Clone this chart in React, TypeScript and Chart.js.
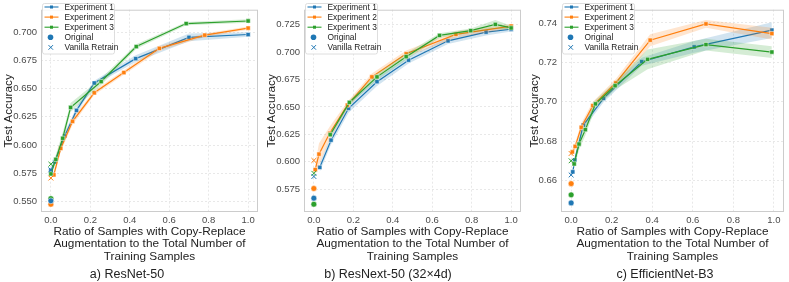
import React, { useEffect, useRef } from "react";
import { Chart, registerables } from "chart.js";
Chart.register(...registerables);

// ---------- shared labels ----------
const LEGEND_LABELS = ["Experiment 1", "Experiment 2", "Experiment 3", "Original", "Vanilla Retrain"];
const X_TICKS = [0, 0.2, 0.4, 0.6, 0.8, 1.0];
const X_TITLE = ["Ratio of Samples with Copy-Replace", "Augmentation to the Total Number of", "Training Samples"];
const Y_TITLE = "Test Accuracy";
const CAPTIONS = ["a) ResNet-50", "b) ResNext-50 (32×4d)", "c) EfficientNet-B3"];

// ---------- panel a: ResNet-50 ----------
const aX1 = [0, 0.02, 0.07, 0.13, 0.22, 0.43, 0.70, 1.0];
const aY1 = [0.5776, 0.585, 0.608, 0.6307, 0.655, 0.6766, 0.6955, 0.698];
const aE1 = [0.003, 0.003, 0.003, 0.003, 0.002, 0.003, 0.0035, 0.002];
const aX2 = [0.015, 0.05, 0.11, 0.22, 0.37, 0.55, 0.78, 1.0];
const aY2 = [0.5736, 0.597, 0.621, 0.6463, 0.6643, 0.6857, 0.6974, 0.7037];
const aE2 = [0.003, 0.003, 0.003, 0.002, 0.002, 0.002, 0.0015, 0.0015];
const aX3 = [0, 0.025, 0.06, 0.1, 0.255, 0.433, 0.686, 1.0];
const aY3 = [0.5744, 0.5873, 0.606, 0.6333, 0.6563, 0.6873, 0.7077, 0.710];
const aE3 = [0.003, 0.004, 0.005, 0.004, 0.003, 0.002, 0.0015, 0.0015];
const aOriginal = [0.5505, 0.5475, 0.5525];
const aVanilla = [0.578, 0.5707, 0.583];
const aYTicks = [0.55, 0.575, 0.6, 0.625, 0.65, 0.675, 0.7];

// ---------- panel b: ResNext-50 ----------
const bX1 = [0.03, 0.087, 0.176, 0.32, 0.48, 0.68, 0.873, 1.0];
const bY1 = [0.595, 0.6197, 0.6487, 0.6729, 0.6925, 0.7101, 0.718, 0.7206];
const bE1 = [0.004, 0.004, 0.004, 0.004, 0.003, 0.003, 0.003, 0.002];
const bX2 = [0.007, 0.026, 0.08, 0.17, 0.294, 0.468, 0.72, 1.0];
const bY2 = [0.593, 0.607, 0.626, 0.6516, 0.6773, 0.6983, 0.7159, 0.7235];
const bE2 = [0.005, 0.01, 0.006, 0.003, 0.003, 0.003, 0.003, 0.002];
const bX3 = [0.083, 0.18, 0.32, 0.468, 0.637, 0.795, 0.92, 1.0];
const bY3 = [0.6247, 0.654, 0.6773, 0.6957, 0.715, 0.7194, 0.725, 0.7218];
const bE3 = [0.002, 0.002, 0.003, 0.003, 0.002, 0.002, 0.004, 0.002];
const bOriginal = [0.567, 0.5758, 0.5615];
const bVanilla = [0.5867, 0.6013, 0.5896];
const bYTicks = [0.575, 0.6, 0.625, 0.65, 0.675, 0.7, 0.725];

// ---------- panel c: EfficientNet-B3 ----------
const cX1 = [0.008, 0.018, 0.06, 0.16, 0.348, 0.607, 0.99];
const cY1 = [0.6644, 0.6704, 0.6881, 0.7017, 0.7203, 0.7278, 0.7363];
const cE1 = [0.002, 0.002, 0.002, 0.002, 0.002, 0.003, 0.004];
const cX2 = [0.006, 0.02, 0.05, 0.107, 0.22, 0.39, 0.665, 0.99];
const cY2 = [0.6745, 0.6773, 0.687, 0.698, 0.7095, 0.7312, 0.7395, 0.7346];
const cE2 = [0.002, 0.002, 0.002, 0.002, 0.002, 0.003, 0.002, 0.003];
const cX3 = [0.015, 0.039, 0.07, 0.12, 0.217, 0.377, 0.665, 0.99];
const cY3 = [0.6684, 0.6785, 0.6858, 0.6989, 0.7081, 0.7215, 0.729, 0.7252];
const cE3 = [0.002, 0.003, 0.003, 0.002, 0.002, 0.005, 0.003, 0.003];
const cOriginal = [0.6486, 0.6584, 0.6527];
const cVanilla = [0.6628, 0.6737, 0.670];
const cYTicks = [0.66, 0.68, 0.7, 0.72, 0.74];

// ---------- style ----------
const COLORS = ["#1f77b4", "#ff7f0e", "#2ca02c"];
const FILLS = ["rgba(31,119,180,0.2)", "rgba(255,127,14,0.2)", "rgba(44,160,44,0.2)"];
const FONT = '"Liberation Sans", Arial, sans-serif';

type Panel = {
  xs: number[][]; ys: number[][]; es: number[][];
  orig: number[]; van: number[];
  yTicks: number[]; yMin: number; yMax: number; dec: number;
  caption: string; captionX: number; axisWidth: number;
};

const PANELS: Panel[] = [
  { xs: [aX1, aX2, aX3], ys: [aY1, aY2, aY3], es: [aE1, aE2, aE3], orig: aOriginal, van: aVanilla,
    yTicks: aYTicks, yMin: 0.5406, yMax: 0.720, dec: 3, caption: CAPTIONS[0], captionX: 127, axisWidth: 41 },
  { xs: [bX1, bX2, bX3], ys: [bY1, bY2, bY3], es: [bE1, bE2, bE3], orig: bOriginal, van: bVanilla,
    yTicks: bYTicks, yMin: 0.5544, yMax: 0.7384, dec: 3, caption: CAPTIONS[1], captionX: 125, axisWidth: 41 },
  { xs: [cX1, cX2, cX3], ys: [cY1, cY2, cY3], es: [cE1, cE2, cE3], orig: cOriginal, van: cVanilla,
    yTicks: cYTicks, yMin: 0.644, yMax: 0.7467, dec: 2, caption: CAPTIONS[2], captionX: 139, axisWidth: 35 },
];

function buildDatasets(p: Panel) {
  const ds: any[] = [];
  for (let s = 0; s < 3; s++) {
    const xs = p.xs[s], ys = p.ys[s], es = p.es[s];
    const base = 6 - s * 2; // blue lowest, green highest
    ds.push({
      type: "line", data: xs.map((x, i) => ({ x, y: ys[i] + es[i] })),
      borderColor: "rgba(0,0,0,0)", borderWidth: 0, pointRadius: 0, fill: false, order: base + 1,
    });
    ds.push({
      type: "line", data: xs.map((x, i) => ({ x, y: ys[i] - es[i] })),
      borderColor: "rgba(0,0,0,0)", borderWidth: 0, pointRadius: 0, fill: "-1",
      backgroundColor: FILLS[s], order: base + 1,
    });
    ds.push({
      type: "line", label: LEGEND_LABELS[s], data: xs.map((x, i) => ({ x, y: ys[i] })),
      borderColor: COLORS[s], borderWidth: 1.2, fill: false,
      pointStyle: "rect", pointRadius: 3, pointBackgroundColor: COLORS[s],
      pointBorderColor: "#ffffff", pointBorderWidth: 0.5, order: base,
    });
  }
  for (let s = 0; s < 3; s++) {
    ds.push({
      type: "line", showLine: false, data: [{ x: 0, y: p.orig[s] }],
      pointStyle: "circle", pointRadius: 2.9, pointBackgroundColor: COLORS[s],
      pointBorderColor: "#ffffff", pointBorderWidth: 0.5, order: 0,
    });
    ds.push({
      type: "line", showLine: false, data: [{ x: 0, y: p.van[s] }],
      pointStyle: "crossRot", pointRadius: 3.4, pointBorderColor: COLORS[s],
      pointBackgroundColor: COLORS[s], pointBorderWidth: 1, order: 0,
    });
  }
  return ds;
}

function decorPlugin(p: Panel) {
  return {
    id: "decor",
    afterDraw(chart: any) {
      const { ctx, chartArea: a } = chart;
      ctx.save();
      // axes frame
      ctx.strokeStyle = "#cccccc";
      ctx.lineWidth = 1;
      ctx.strokeRect(a.left + 0.5, a.top + 0.5, a.right - a.left - 1, a.bottom - a.top - 1);
      // legend
      const L = a.left;
      const bx = L + 1.5, by = 3.5, bw = 72, bh = 50.5;
      ctx.fillStyle = "rgba(255,255,255,0.85)";
      ctx.strokeStyle = "#d6d6d6";
      ctx.lineWidth = 0.8;
      ctx.beginPath();
      (ctx as any).roundRect ? ctx.roundRect(bx, by, bw, bh, 2) : ctx.rect(bx, by, bw, bh);
      ctx.fill();
      ctx.stroke();
      ctx.font = `8.4px ${FONT}`;
      ctx.textAlign = "left";
      ctx.textBaseline = "middle";
      for (let i = 0; i < 5; i++) {
        const y = 7.0 + i * 10.1;
        if (i < 3) {
          ctx.strokeStyle = COLORS[i];
          ctx.lineWidth = 1.1;
          ctx.beginPath();
          ctx.moveTo(L + 3.5, y);
          ctx.lineTo(L + 17.5, y);
          ctx.stroke();
          ctx.fillStyle = COLORS[i];
          ctx.fillRect(L + 9, y - 1.5, 3, 3);
        } else if (i === 3) {
          ctx.fillStyle = COLORS[0];
          ctx.beginPath();
          ctx.arc(L + 9.5, y, 2.8, 0, Math.PI * 2);
          ctx.fill();
        } else {
          ctx.strokeStyle = COLORS[0];
          ctx.lineWidth = 1;
          ctx.beginPath();
          ctx.moveTo(L + 7.5, y - 2.3); ctx.lineTo(L + 12, y + 2.3);
          ctx.moveTo(L + 12, y - 2.3); ctx.lineTo(L + 7.5, y + 2.3);
          ctx.stroke();
        }
        ctx.fillStyle = "#222222";
        ctx.fillText(LEGEND_LABELS[i], L + 23.5, y + 0.3);
      }
      // caption
      ctx.font = `12.5px ${FONT}`;
      ctx.fillStyle = "#222222";
      ctx.textAlign = "center";
      ctx.textBaseline = "middle";
      ctx.fillText(p.caption, p.captionX, 275);
      ctx.restore();
    },
  };
}

function PanelChart({ p }: { p: Panel }) {
  const ref = useRef<HTMLCanvasElement | null>(null);
  useEffect(() => {
    if (!ref.current) return;
    const chart = new Chart(ref.current, {
      type: "line",
      data: { datasets: buildDatasets(p) },
      plugins: [decorPlugin(p)],
      options: {
        animation: false,
        responsive: false,
        devicePixelRatio: 1,
        layout: { padding: { top: 2, right: 1, left: 0, bottom: 0 } },
        plugins: { legend: { display: false }, tooltip: { enabled: false }, title: { display: false } },
        scales: {
          x: {
            type: "linear", min: -0.05, max: 1.05,
            afterBuildTicks: (s: any) => { s.ticks = X_TICKS.map((v) => ({ value: v })); },
            afterFit: (s: any) => { s.height = 70; },
            ticks: { padding: 3, color: "#4a4a4a", font: { family: FONT, size: 9.5 }, callback: (v: any) => Number(v).toFixed(1) },
            grid: { color: "#e2e2e2", lineWidth: 0.8, drawTicks: false },
            border: { display: false, dash: [2, 2] },
            title: {
              display: true, text: X_TITLE, color: "#222222",
              font: { family: FONT, size: 11.8, lineHeight: "12.2px" },
              padding: { top: 0, bottom: 19.6 },
            },
          },
          y: {
            type: "linear", min: p.yMin, max: p.yMax,
            afterBuildTicks: (s: any) => { s.ticks = p.yTicks.map((v) => ({ value: v })); },
            afterFit: (s: any) => { s.width = p.axisWidth; },
            ticks: { padding: 4, color: "#4a4a4a", font: { family: FONT, size: 9.5 }, callback: (v: any) => Number(v).toFixed(p.dec) },
            grid: { color: "#e2e2e2", lineWidth: 0.8, drawTicks: false },
            border: { display: false, dash: [2, 2] },
            title: {
              display: true, text: Y_TITLE, color: "#222222",
              font: { family: FONT, size: 11.8, lineHeight: 1.2 },
              padding: { top: 1.5, bottom: 0 },
            },
          },
        },
      } as any,
    });
    return () => chart.destroy();
  }, [p]);
  return <canvas ref={ref} width={263} height={282} style={{ display: "block" }} />;
}

export default function App() {
  return (
    <div style={{ position: "absolute", left: 0, top: 0, width: 789, height: 282, background: "#fff" }}>
      {PANELS.map((p, i) => (
        <div key={i} style={{ position: "absolute", left: i * 263, top: 0, width: 263, height: 282 }}>
          <PanelChart p={p} />
        </div>
      ))}
    </div>
  );
}
